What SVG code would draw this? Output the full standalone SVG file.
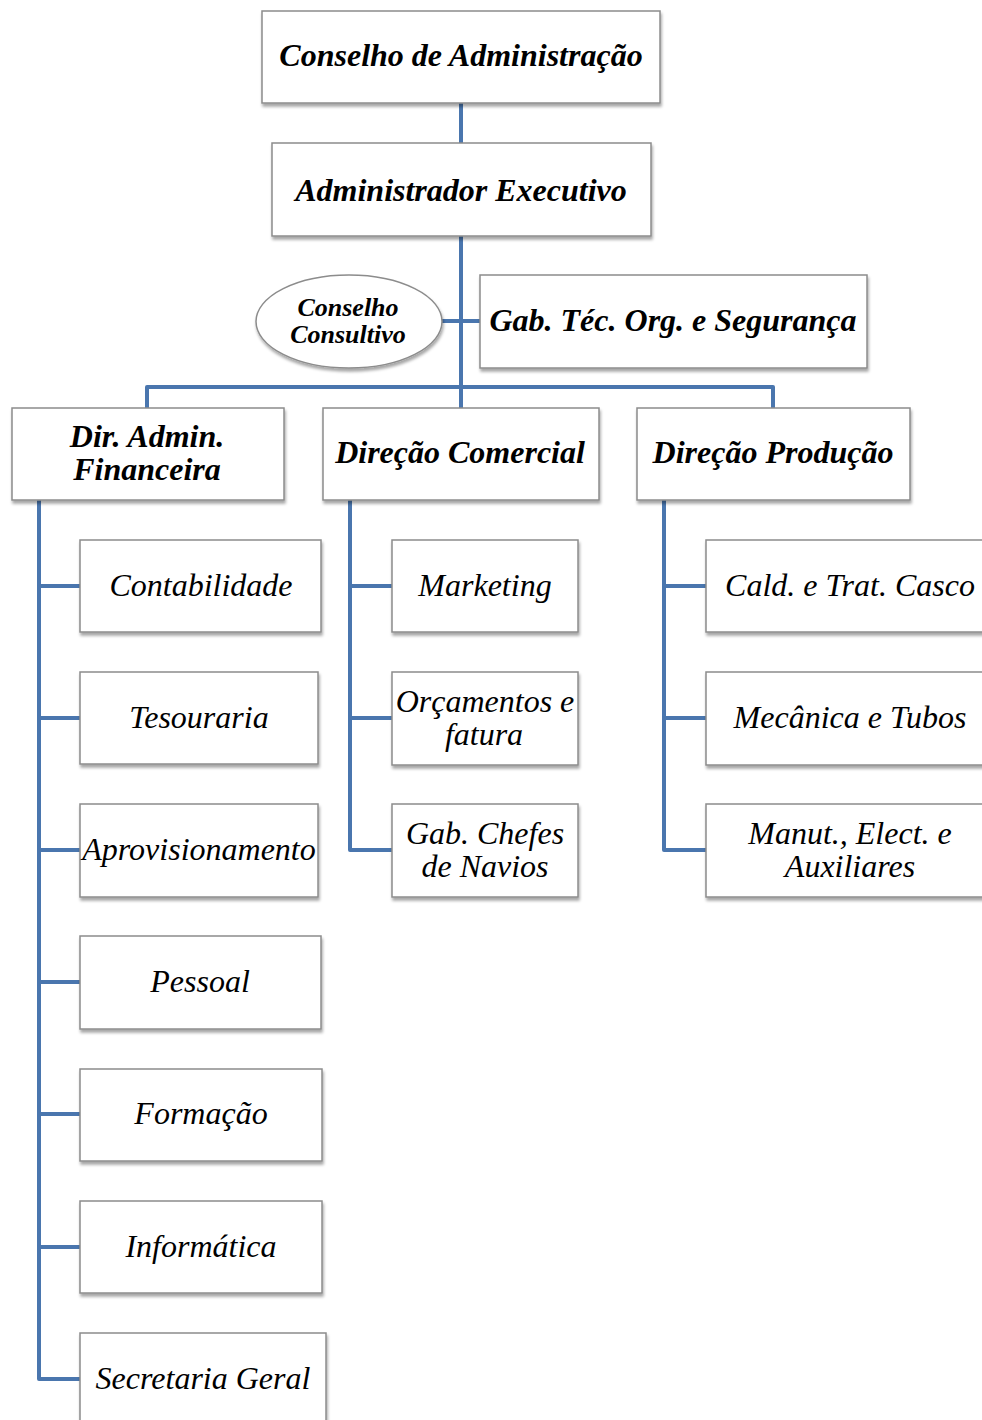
<svg xmlns="http://www.w3.org/2000/svg" width="982" height="1420" viewBox="0 0 982 1420">
<defs>
<filter id="sh" x="-10%" y="-10%" width="120%" height="130%">
<feDropShadow dx="1" dy="3" stdDeviation="1.8" flood-color="#000" flood-opacity="0.35"/>
</filter>
</defs>
<style>
.box{fill:#fff;stroke:#8c8c8c;stroke-width:1.5;filter:url(#sh)}
.t{font-style:italic;font-size:32px;fill:#000;text-anchor:middle}
.b{font-weight:bold}
.s{font-size:26px}
.c{fill:none;stroke:#4a76ae;stroke-width:4;stroke-linejoin:round}
</style>
<rect width="982" height="1420" fill="#fff"/>
<g id="connectors">
<path class="c" d="M461,103 V143"/>
<path class="c" d="M461,236 V408"/>
<path class="c" d="M442,321 H480"/>
<path class="c" d="M147,408 V387 H773 V408"/>
<path class="c" d="M39,500 V1379 H80 M39,586 H80 M39,718 H80 M39,850 H80 M39,982 H80 M39,1114 H80 M39,1247 H80"/>
<path class="c" d="M350,500 V850 H392 M350,586 H392 M350,718 H392"/>
<path class="c" d="M664,500 V850 H706 M664,586 H706 M664,718 H706"/>
</g>
<g font-family="Liberation Serif, Times New Roman, serif">
<g id="conselho-admin"><rect class="box" x="262" y="11" width="398" height="92"/><text class="t b" x="461" y="66">Conselho de Administração</text></g>
<g id="admin-exec"><rect class="box" x="272" y="143" width="379" height="93"/><text class="t b" x="461" y="201">Administrador Executivo</text></g>
<g id="conselho-consultivo"><ellipse class="box" cx="349" cy="321.5" rx="93" ry="46.5"/><text class="t b s" x="348" y="316">Conselho</text><text class="t b s" x="348" y="343">Consultivo</text></g>
<g id="gab-tec"><rect class="box" x="480" y="275" width="387" height="93"/><text class="t b" x="673" y="331">Gab. Téc. Org. e Segurança</text></g>
<g id="dir-admin"><rect class="box" x="12" y="408" width="272" height="92"/><text class="t b" x="147" y="447">Dir. Admin.</text><text class="t b" x="147" y="480">Financeira</text></g>
<g id="dir-comercial"><rect class="box" x="323" y="408" width="276" height="92"/><text class="t b" x="460" y="463">Direção Comercial</text></g>
<g id="dir-producao"><rect class="box" x="637" y="408" width="273" height="92"/><text class="t b" x="773" y="463">Direção Produção</text></g>
<g id="contabilidade"><rect class="box" x="80" y="540" width="241" height="92"/><text class="t" x="201" y="596">Contabilidade</text></g>
<g id="tesouraria"><rect class="box" x="80" y="672" width="238" height="92"/><text class="t" x="199" y="728">Tesouraria</text></g>
<g id="aprovisionamento"><rect class="box" x="80" y="804" width="238" height="93"/><text class="t" x="199" y="860">Aprovisionamento</text></g>
<g id="pessoal"><rect class="box" x="80" y="936" width="241" height="93"/><text class="t" x="200" y="992">Pessoal</text></g>
<g id="formacao"><rect class="box" x="80" y="1069" width="242" height="92"/><text class="t" x="201" y="1124">Formação</text></g>
<g id="informatica"><rect class="box" x="80" y="1201" width="242" height="92"/><text class="t" x="201" y="1257">Informática</text></g>
<g id="secretaria"><rect class="box" x="80" y="1333" width="246" height="93"/><text class="t" x="203" y="1389">Secretaria Geral</text></g>
<g id="marketing"><rect class="box" x="392" y="540" width="186" height="92"/><text class="t" x="485" y="596">Marketing</text></g>
<g id="orcamentos"><rect class="box" x="392" y="672" width="186" height="93"/><text class="t" x="485" y="712">Orçamentos e</text><text class="t" x="484" y="745">fatura</text></g>
<g id="gab-chefes"><rect class="box" x="392" y="804" width="186" height="93"/><text class="t" x="485" y="844">Gab. Chefes</text><text class="t" x="485" y="877">de Navios</text></g>
<g id="cald"><rect class="box" x="706" y="540" width="290" height="92"/><text class="t" x="850" y="596">Cald. e Trat. Casco</text></g>
<g id="mecanica"><rect class="box" x="706" y="672" width="290" height="93"/><text class="t" x="850" y="728">Mecânica e Tubos</text></g>
<g id="manut"><rect class="box" x="706" y="804" width="290" height="93"/><text class="t" x="850" y="844">Manut., Elect. e</text><text class="t" x="850" y="877">Auxiliares</text></g>
</g>
</svg>
